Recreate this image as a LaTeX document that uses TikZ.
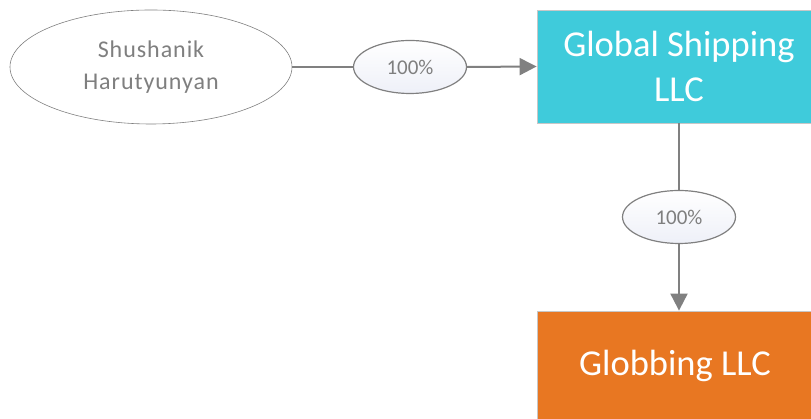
\documentclass[tikz,border=0pt]{standalone}
\usepackage{fontspec}
\setmainfont{Carlito}
\usetikzlibrary{shapes.geometric,arrows.meta}
\definecolor{edgegray}{HTML}{808080}
\definecolor{txtgray}{HTML}{7F7F7F}
\definecolor{boxblue}{HTML}{3FCBDB}
\definecolor{boxorange}{HTML}{E87722}
\definecolor{lblfill}{HTML}{EEF0F8}
\newfontfamily\spacedfont[LetterSpace=4]{Carlito}
\tikzset{
  x=1pt, y=1pt,
  person/.style={ellipse, draw=edgegray, line width=0.6pt, fill=white,
    minimum width=282pt, minimum height=114pt, inner sep=0pt,
    text=txtgray, font=\spacedfont\fontsize{24}{32}\selectfont, align=center},
  pct/.style={ellipse, draw=edgegray, line width=1.2pt, top color=white, bottom color=lblfill,
    minimum width=113pt, minimum height=53pt, inner sep=0pt,
    text=txtgray, font=\fontsize{21}{24}\selectfont},
  company/.style={rectangle, draw=black!22, line width=0.8pt, minimum width=276pt,
    inner sep=0pt, text=white, align=center, font=\fontsize{36.5}{45}\selectfont},
  link/.style={draw=edgegray, line width=2pt},
  arr/.style={link, -{Triangle[length=17pt,width=17pt]}}
}
\begin{document}
\begin{tikzpicture}
\useasboundingbox (0,0) rectangle (811,419);
\node[person] (sh) at (151,352) {Shushanik\\Harutyunyan};
\node[company, fill=boxblue, minimum height=113pt] (gs) at (675,352.5) {\hspace*{8pt}Global Shipping\\\hspace*{8pt}LLC};
\node[company, fill=boxorange, minimum height=110pt] (gl) at (675,53) {Globbing LLC};
\node[pct] (p1) at (410,352) {100\%};
\node[pct] (p2) at (679,202) {100\%};
\draw[link] (sh.east) -- (p1.west);
\draw[arr] (p1.east) -- (gs.west);
\draw[link] (p2.north |- gs.south) -- (p2.north);
\draw[arr] (p2.south) -- (p2.south |- gl.north);
\end{tikzpicture}
\end{document}
